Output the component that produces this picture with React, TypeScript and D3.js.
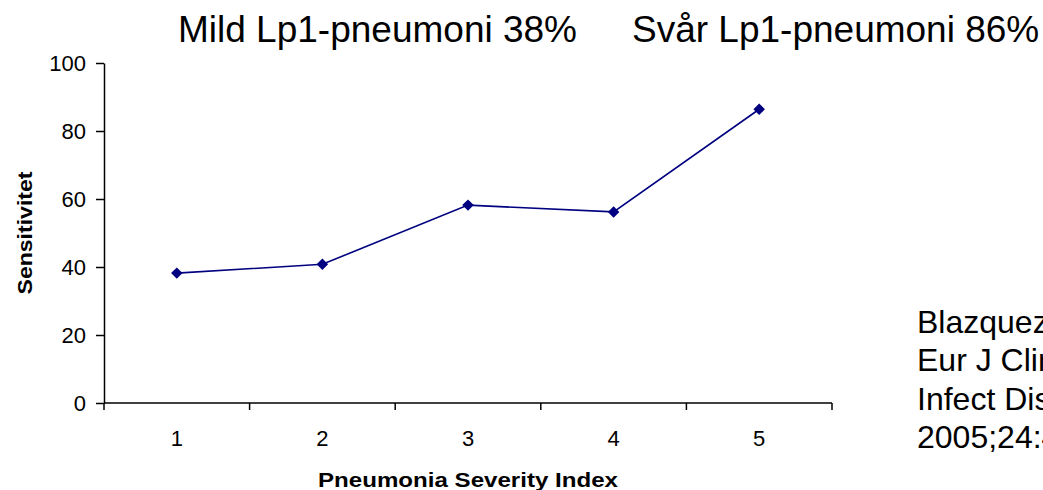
import React, { useEffect, useRef } from "react";
import * as d3 from "d3";

// chart data
const categories = ["1", "2", "3", "4", "5"];
const sensitivity = [38.2, 40.8, 58.2, 56.2, 86.4];
const yTicks = [0, 20, 40, 60, 80, 100];
const titleLeft = "Mild Lp1-pneumoni 38%";
const titleRight = "Svår Lp1-pneumoni 86%";
const referenceLines = ["Blazquez", "Eur J Clin", "Infect Dis", "2005;24:4"];

const WIDTH = 1043;
const HEIGHT = 490;
const FONT = "'Liberation Sans', Arial, sans-serif";
const NAVY = "#000080";

const App: React.FC = () => {
  const svgRef = useRef<SVGSVGElement | null>(null);

  useEffect(() => {
    const svg = d3.select(svgRef.current);
    svg.selectAll("*").remove();

    const left = 104;
    const right = 832;
    const top = 63;
    const bottom = 403;

    const x = d3.scaleBand<string>().domain(categories).range([left, right]).padding(0);
    const y = d3.scaleLinear().domain([0, 100]).range([bottom, top]);

    // titles
    svg
      .append("text")
      .attr("x", 178)
      .attr("y", 42)
      .attr("font-family", FONT)
      .attr("font-size", 37)
      .text(titleLeft);
    svg
      .append("text")
      .attr("x", 632)
      .attr("y", 42)
      .attr("font-family", FONT)
      .attr("font-size", 37)
      .text(titleRight);

    // y axis
    const yAxis = svg
      .append("g")
      .attr("transform", `translate(${left},0)`)
      .call(d3.axisLeft(y).tickValues(yTicks).tickSize(8).tickPadding(10).tickSizeOuter(0));
    yAxis.select(".domain").attr("stroke", "#000").attr("stroke-width", 1.5);
    yAxis.selectAll(".tick line").attr("stroke", "#000").attr("stroke-width", 1.5);
    yAxis
      .selectAll(".tick text")
      .attr("font-family", FONT)
      .attr("font-size", 22)
      .attr("fill", "#000");

    // x axis line and ticks at category boundaries
    svg
      .append("line")
      .attr("x1", left)
      .attr("x2", right)
      .attr("y1", bottom)
      .attr("y2", bottom)
      .attr("stroke", "#000")
      .attr("stroke-width", 1.5);

    const bounds = categories.map((c) => x(c)!).concat([x(categories[categories.length - 1])! + x.bandwidth()]);
    svg
      .selectAll(".xtick")
      .data(bounds)
      .enter()
      .append("line")
      .attr("x1", (d) => d)
      .attr("x2", (d) => d)
      .attr("y1", bottom)
      .attr("y2", bottom + 7)
      .attr("stroke", "#000")
      .attr("stroke-width", 1.5);

    svg
      .selectAll(".xlabel")
      .data(categories)
      .enter()
      .append("text")
      .attr("x", (d) => x(d)! + x.bandwidth() / 2)
      .attr("y", 446)
      .attr("text-anchor", "middle")
      .attr("font-family", FONT)
      .attr("font-size", 22)
      .text((d) => d);

    // axis titles
    svg
      .append("text")
      .attr("x", (left + right) / 2)
      .attr("y", 487)
      .attr("text-anchor", "middle")
      .attr("font-family", FONT)
      .attr("font-size", 21)
      .attr("font-weight", "bold")
      .attr("textLength", 300)
      .attr("lengthAdjust", "spacingAndGlyphs")
      .text("Pneumonia Severity Index");

    svg
      .append("text")
      .attr("transform", `translate(32,${(top + bottom) / 2}) rotate(-90)`)
      .attr("text-anchor", "middle")
      .attr("font-family", FONT)
      .attr("font-size", 21)
      .attr("font-weight", "bold")
      .attr("textLength", 123)
      .attr("lengthAdjust", "spacingAndGlyphs")
      .text("Sensitivitet");

    // line series
    const points = categories.map((c, i) => [x(c)! + x.bandwidth() / 2, y(sensitivity[i])] as [number, number]);
    svg
      .append("path")
      .datum(points)
      .attr("d", d3.line())
      .attr("fill", "none")
      .attr("stroke", NAVY)
      .attr("stroke-width", 1.6);

    const diamond = d3.symbol().type(d3.symbolSquare).size(66);
    svg
      .selectAll(".marker")
      .data(points)
      .enter()
      .append("path")
      .attr("d", diamond()!)
      .attr("transform", (d) => `translate(${d[0]},${d[1]}) rotate(45)`)
      .attr("fill", NAVY);

    // citation, clipped by the right edge as in the reference
    svg
      .selectAll(".ref")
      .data(referenceLines)
      .enter()
      .append("text")
      .attr("x", 917)
      .attr("y", (_, i) => 333 + i * 38.3)
      .attr("font-family", FONT)
      .attr("font-size", 32)
      .text((d) => d);
  }, []);

  return (
    <svg
      ref={svgRef}
      width={WIDTH}
      height={HEIGHT}
      style={{ position: "absolute", left: 0, top: 0, background: "#fff" }}
    ></svg>
  );
};

export default App;
